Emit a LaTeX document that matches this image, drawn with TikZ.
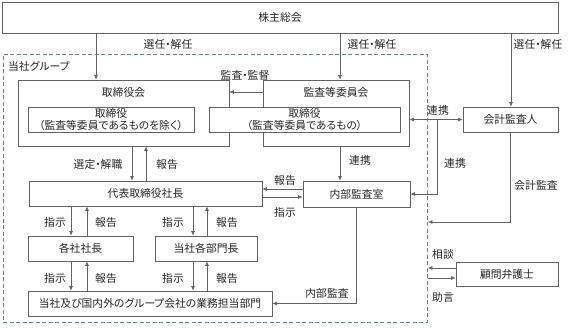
\documentclass[tikz,border=0pt]{standalone}
\usepackage{fontspec}
\setmainfont{Noto Sans CJK JP}[RawFeature=+palt]
\usetikzlibrary{arrows.meta}
\definecolor{lncol}{HTML}{626262}
\definecolor{frcol}{HTML}{5A82A6}
\definecolor{txcol}{HTML}{262626}
\begin{document}
\begin{tikzpicture}[x=1pt,y=-1pt,
  every node/.style={text=txcol,font=\fontsize{10.8}{12.8}\selectfont,inner sep=0pt},
  box/.style={draw=lncol,line width=0.7pt,fill=white,rectangle,align=center},
  arr/.style={draw=lncol,line width=0.7pt,-{Latex[length=4.5pt,width=4pt]}},
  darr/.style={draw=lncol,line width=0.7pt,{Latex[length=4.5pt,width=4pt]}-{Latex[length=4.5pt,width=4pt]}},
  lbl/.style={}]
\useasboundingbox (0,0) rectangle (570,327);
\fill[white] (0,0) rectangle (570,327);
% coordinates for positions
\foreach \n/\v in {71/71,87/87,96/96,132/132,146/146,193/193,207/207,340/340,437/437,511/511}
  {\coordinate (x\n) at (\v,0);}
\foreach \n/\v in {92/92,189/189,197/197,222/222,268/268,278/278}
  {\coordinate (y\n) at (0,\v);}
% group frame
\node[draw=frcol,line width=0.9pt,dash pattern=on 4pt off 2.5pt,minimum width=424pt,minimum height=268pt,anchor=north west] (grp) at (3,54) {};
\node[anchor=west] (grplbl) at (8,66) {当社グループ};
% boxes
\node[box,minimum width=556pt,minimum height=31pt] (soukai) at (280,17.5) {株主総会};
\node[box,minimum width=211pt,minimum height=66pt] (torikai) at (123.5,113) {};
\node (torikaiT) at (123.5,92) {取締役会};
\node[box,minimum width=146pt,minimum height=66pt] (kansaikai) at (336,113) {};
\node (kansaikaiT) at (336,92) {監査等委員会};
\node[box,minimum width=166pt,minimum height=25pt] (torin) at (111,119.5) {取締役\\（監査等委員であるものを除く）};
\node[box,minimum width=191pt,minimum height=25pt] (kansain) at (304.5,119.5) {取締役\\（監査等委員であるもの）};
\node[box,minimum width=95pt,minimum height=25pt] (kaikei) at (510.5,119.5) {会計監査人};
\node[box,minimum width=233pt,minimum height=25pt] (daihyo) at (145.5,193.5) {代表取締役社長};
\node[box,minimum width=107pt,minimum height=26pt] (naibu) at (356.5,194) {内部監査室};
\node[box,minimum width=105pt,minimum height=25pt] (kakusha) at (80.5,248.5) {各社社長};
\node[box,minimum width=102pt,minimum height=25pt] (bumon) at (206,248.5) {当社各部門長};
\node[box,minimum width=244pt,minimum height=25pt] (gyomu) at (150,303.5) {当社及び国内外のグループ会社の業務担当部門};
\node[box,minimum width=102pt,minimum height=24pt] (komon) at (507,274) {顧問弁護士};
\coordinate (jn) at (437,120);
% connectors
\draw[arr] (soukai.south -| x96) -- (torikai.north -| x96);
\draw[arr] (soukai.south -| x340) -- (kansaikai.north -| x340);
\draw[arr] (soukai.south -| x511) -- (kaikei.north -| x511);
\draw[arr] (kansaikai.west |- y92) -- (torikai.east |- y92);
\draw[darr] (kansaikai.east |- kaikei.west) -- (kaikei.west);
\draw[arr] (jn) |- (naibu.east);
\draw[arr] (kansaikai.south -| x340) -- (naibu.north -| x340);
\draw[arr] (kaikei.south) |- (grp.east |- y222);
\draw[arr] (komon.west |- y268) -- (grp.east |- y268);
\draw[arr] (grp.east |- y278) -- (komon.west |- y278);
\draw[arr] (torikai.south -| x132) -- (daihyo.north -| x132);
\draw[arr] (daihyo.north -| x146) -- (torikai.south -| x146);
\draw[arr] (naibu.west |- y189) -- (daihyo.east |- y189);
\draw[arr] (daihyo.east |- y197) -- (naibu.west |- y197);
\draw[arr] (daihyo.south -| x71) -- (kakusha.north -| x71);
\draw[arr] (kakusha.north -| x87) -- (daihyo.south -| x87);
\draw[arr] (daihyo.south -| x193) -- (bumon.north -| x193);
\draw[arr] (bumon.north -| x207) -- (daihyo.south -| x207);
\draw[arr] (kakusha.south -| x71) -- (gyomu.north -| x71);
\draw[arr] (gyomu.north -| x87) -- (kakusha.south -| x87);
\draw[arr] (bumon.south -| x193) -- (gyomu.north -| x193);
\draw[arr] (gyomu.north -| x207) -- (bumon.south -| x207);
\draw[arr] (naibu.south) |- (gyomu.east);
% labels
\node (l1) at (168,44) {選任・解任};
\node (l2) at (372,44) {選任・解任};
\node (l3) at (538,44) {選任・解任};
\node (l4) at (245,75) {監査・監督};
\node (l5) at (438,110) {連携};
\node (l6) at (455,163) {連携};
\node (l7) at (360,160) {連携};
\node (l8) at (536,185) {会計監査};
\node (l9) at (443,254) {相談};
\node (l10) at (443,297) {助言};
\node (l11) at (327,293) {内部監査};
\node (l12) at (98,164) {選定・解職};
\node (l13) at (167,164) {報告};
\node (l14) at (285,180) {報告};
\node (l15) at (285,212) {指示};
\node (l16) at (55,222) {指示};
\node (l17) at (106,222) {報告};
\node (l18) at (173,222) {指示};
\node (l19) at (227,222) {報告};
\node (l20) at (55,278) {指示};
\node (l21) at (106,278) {報告};
\node (l22) at (173,278) {指示};
\node (l23) at (227,278) {報告};
\end{tikzpicture}
\end{document}
